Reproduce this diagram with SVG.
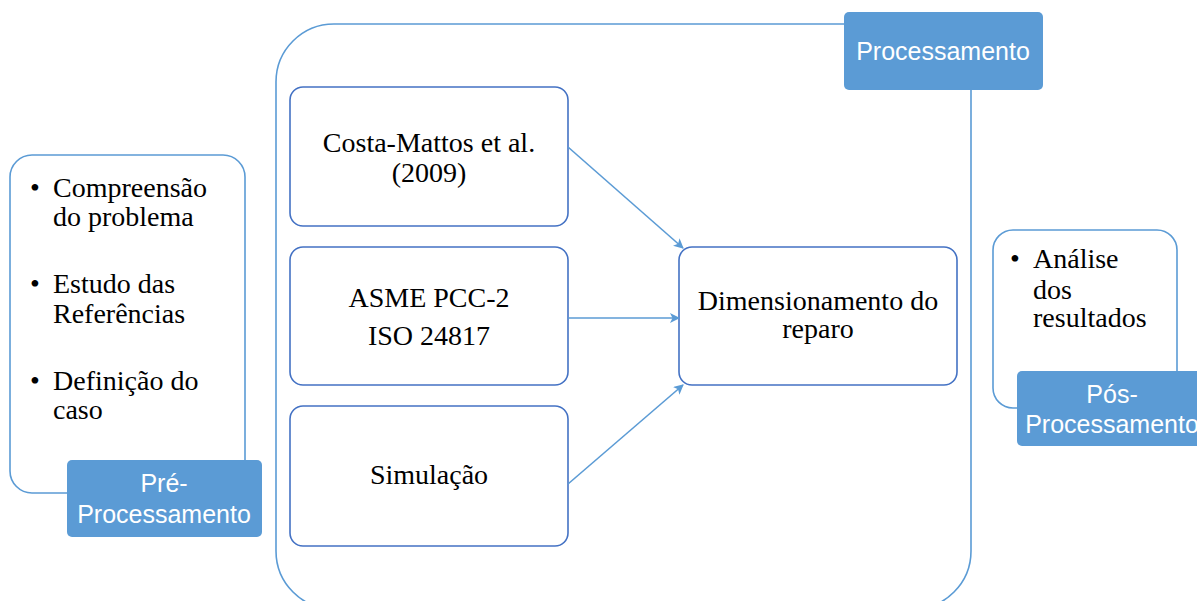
<svg xmlns="http://www.w3.org/2000/svg" width="1197" height="601" viewBox="0 0 1197 601">
<defs>
<style>
.outline{fill:#fff;stroke:#5B9BD5;stroke-width:1.6}
.box{fill:#fff;stroke:#4472C4;stroke-width:1.6}
.label{fill:#5B9BD5;stroke:none}
.lt{font-family:"Liberation Sans",Arial,sans-serif;font-size:25px;fill:#fff;text-anchor:middle}
.st{font-family:"Liberation Serif","Times New Roman",serif;font-size:28px;fill:#000}
.mid{text-anchor:middle}
.conn{stroke:#5B9BD5;stroke-width:1.6;fill:none}
</style>
<marker id="arr" viewBox="0 0 10 10" refX="9" refY="5" markerWidth="10" markerHeight="10" markerUnits="userSpaceOnUse" orient="auto">
<path d="M0,0 L10,5 L0,10 L2.5,5 z" fill="#5B9BD5"/>
</marker>
</defs>
<rect width="1197" height="601" fill="#fff"/>

<g id="processamento-container">
<rect class="outline" x="276" y="24" width="695" height="585" rx="58" ry="58"/>
</g>

<g id="pre-processamento">
<rect class="outline" x="10" y="155" width="235" height="338" rx="22" ry="22"/>
<text class="st" x="35" y="197" text-anchor="middle">•</text>
<text class="st" x="53" y="197">Compreensão</text>
<text class="st" x="53" y="226">do problema</text>
<text class="st" x="35" y="293" text-anchor="middle">•</text>
<text class="st" x="53" y="293">Estudo das</text>
<text class="st" x="53" y="323">Referências</text>
<text class="st" x="35" y="390" text-anchor="middle">•</text>
<text class="st" x="53" y="390">Definição do</text>
<text class="st" x="53" y="419">caso</text>
<rect class="label" x="67" y="460" width="195" height="77" rx="5" ry="5"/>
<text class="lt" x="164" y="492">Pré-</text>
<text class="lt" x="164" y="523">Processamento</text>
</g>

<g id="processamento-label">
<rect class="label" x="844" y="12" width="199" height="78" rx="5" ry="5"/>
<text class="lt" x="943" y="60">Processamento</text>
</g>

<g id="costa-mattos">
<rect class="box" x="290" y="87" width="278" height="139" rx="13" ry="13"/>
<text class="st mid" x="429" y="152">Costa-Mattos et al.</text>
<text class="st mid" x="429" y="182">(2009)</text>
</g>

<g id="asme">
<rect class="box" x="290" y="247" width="278" height="138" rx="13" ry="13"/>
<text class="st mid" x="429" y="307">ASME PCC-2</text>
<text class="st mid" x="429" y="345">ISO 24817</text>
</g>

<g id="simulacao">
<rect class="box" x="290" y="406" width="278" height="140" rx="13" ry="13"/>
<text class="st mid" x="429" y="484">Simulação</text>
</g>

<g id="dimensionamento">
<rect class="box" x="679" y="247" width="278" height="138" rx="13" ry="13"/>
<text class="st mid" x="818" y="310">Dimensionamento do</text>
<text class="st mid" x="818" y="338">reparo</text>
</g>

<g id="pos-processamento">
<rect class="outline" x="993" y="230" width="184" height="178" rx="20" ry="20"/>
<text class="st" x="1015" y="268" text-anchor="middle">•</text>
<text class="st" x="1033" y="268">Análise</text>
<text class="st" x="1033" y="299">dos</text>
<text class="st" x="1033" y="327">resultados</text>
<rect class="label" x="1017" y="371" width="195" height="75" rx="5" ry="5"/>
<text class="lt" x="1112" y="403">Pós-</text>
<text class="lt" x="1112" y="433">Processamento</text>
</g>

<g id="connectors">
<line class="conn" x1="568" y1="147" x2="683" y2="248" marker-end="url(#arr)"/>
<line class="conn" x1="568" y1="318" x2="679" y2="318" marker-end="url(#arr)"/>
<line class="conn" x1="568" y1="484" x2="683" y2="385" marker-end="url(#arr)"/>
</g>
</svg>
